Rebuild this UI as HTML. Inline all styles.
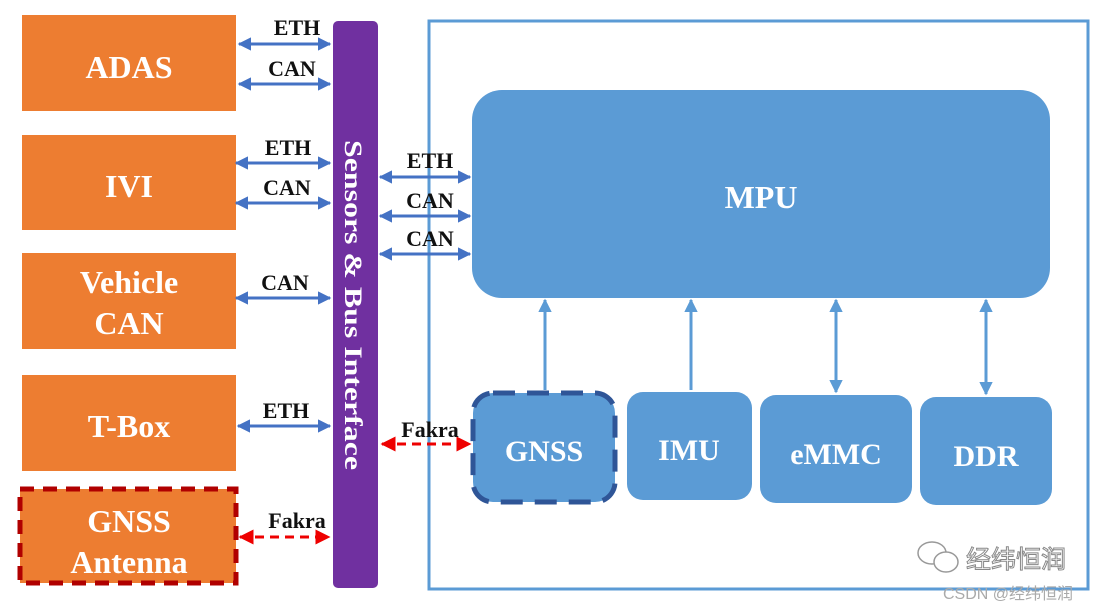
<!DOCTYPE html>
<html><head><meta charset="utf-8"><style>
html,body{margin:0;padding:0;background:#fff;width:1109px;height:610px;overflow:hidden}
svg{display:block}
.w{font-family:"Liberation Serif",serif;font-weight:bold;fill:#fff;text-anchor:middle}
.k{font-family:"Liberation Serif",serif;font-weight:bold;fill:#111;text-anchor:middle;font-size:22px}
</style></head><body>
<svg width="1109" height="610" viewBox="0 0 1109 610" xmlns="http://www.w3.org/2000/svg">
<defs>
<marker id="b" viewBox="0 0 10 10" refX="9" refY="5" markerWidth="4.5" markerHeight="4.5" orient="auto-start-reverse"><path d="M0,0 L10,5 L0,10 z" fill="#4472c4"/></marker>
<marker id="bl" viewBox="0 0 10 10" refX="9" refY="5" markerWidth="4.5" markerHeight="4.5" orient="auto-start-reverse"><path d="M0,0 L10,5 L0,10 z" fill="#5b9bd5"/></marker>
<marker id="r" viewBox="0 0 10 10" refX="9" refY="5" markerWidth="5" markerHeight="5" orient="auto-start-reverse"><path d="M0,0 L10,5 L0,10 z" fill="#e00"/></marker>
</defs>
<rect x="429" y="21" width="659" height="568" fill="none" stroke="#5b9bd5" stroke-width="3"/>
<rect x="22" y="15" width="214" height="96" fill="#ed7d31"/>
<rect x="22" y="135" width="214" height="95" fill="#ed7d31"/>
<rect x="22" y="253" width="214" height="96" fill="#ed7d31"/>
<rect x="22" y="375" width="214" height="96" fill="#ed7d31"/>
<rect x="20" y="489" width="216" height="94" fill="#ed7d31" stroke="#b00000" stroke-width="5" stroke-dasharray="14,9"/>
<text class="w" x="129" y="78" font-size="32">ADAS</text>
<text class="w" x="129" y="197" font-size="32">IVI</text>
<text class="w" x="129" y="293" font-size="32">Vehicle</text>
<text class="w" x="129" y="334" font-size="32">CAN</text>
<text class="w" x="129" y="437" font-size="32">T-Box</text>
<text class="w" x="129" y="532" font-size="32">GNSS</text>
<text class="w" x="129" y="573" font-size="32">Antenna</text>
<rect x="333" y="21" width="45" height="567" rx="5" fill="#7030a0"/>
<text class="w" transform="translate(345,305) rotate(90)" font-size="25" textLength="330" lengthAdjust="spacingAndGlyphs">Sensors &amp; Bus Interface</text>
<g stroke="#4472c4" stroke-width="3" fill="none">
<line x1="239" y1="44" x2="330" y2="44" marker-start="url(#b)" marker-end="url(#b)"/>
<line x1="239" y1="84" x2="330" y2="84" marker-start="url(#b)" marker-end="url(#b)"/>
<line x1="236" y1="163" x2="330" y2="163" marker-start="url(#b)" marker-end="url(#b)"/>
<line x1="236" y1="203" x2="330" y2="203" marker-start="url(#b)" marker-end="url(#b)"/>
<line x1="236" y1="298" x2="330" y2="298" marker-start="url(#b)" marker-end="url(#b)"/>
<line x1="238" y1="426" x2="330" y2="426" marker-start="url(#b)" marker-end="url(#b)"/>
<line x1="380" y1="177" x2="470" y2="177" marker-start="url(#b)" marker-end="url(#b)"/>
<line x1="380" y1="216" x2="470" y2="216" marker-start="url(#b)" marker-end="url(#b)"/>
<line x1="380" y1="254" x2="470" y2="254" marker-start="url(#b)" marker-end="url(#b)"/>
</g>
<g stroke="#e00" stroke-width="3" fill="none" stroke-dasharray="9,6">
<line x1="240" y1="537" x2="329" y2="537" marker-start="url(#r)" marker-end="url(#r)"/>
<line x1="382" y1="444" x2="470" y2="444" marker-start="url(#r)" marker-end="url(#r)"/>
</g>
<text class="k" x="297" y="35">ETH</text>
<text class="k" x="292" y="76">CAN</text>
<text class="k" x="288" y="155">ETH</text>
<text class="k" x="287" y="195">CAN</text>
<text class="k" x="285" y="290">CAN</text>
<text class="k" x="286" y="418">ETH</text>
<text class="k" x="297" y="528" font-size="19">Fakra</text>
<text class="k" x="430" y="168">ETH</text>
<text class="k" x="430" y="208">CAN</text>
<text class="k" x="430" y="246">CAN</text>
<text class="k" x="430" y="437" font-size="19">Fakra</text>
<rect x="472" y="90" width="578" height="208" rx="30" fill="#5b9bd5"/>
<text class="w" x="761" y="208" font-size="32">MPU</text>
<rect x="473" y="393" width="142" height="109" rx="20" fill="#5b9bd5" stroke="#2f5597" stroke-width="5" stroke-dasharray="22,12"/>
<rect x="627" y="392" width="125" height="108" rx="16" fill="#5b9bd5"/>
<rect x="760" y="395" width="152" height="108" rx="16" fill="#5b9bd5"/>
<rect x="920" y="397" width="132" height="108" rx="16" fill="#5b9bd5"/>
<text class="w" x="544" y="461" font-size="30">GNSS</text>
<text class="w" x="689" y="460" font-size="30">IMU</text>
<text class="w" x="836" y="464" font-size="30">eMMC</text>
<text class="w" x="986" y="466" font-size="30">DDR</text>
<g stroke="#5b9bd5" stroke-width="3" fill="none">
<line x1="545" y1="390" x2="545" y2="300" marker-end="url(#bl)"/>
<line x1="691" y1="390" x2="691" y2="300" marker-end="url(#bl)"/>
<line x1="836" y1="392" x2="836" y2="300" marker-start="url(#bl)" marker-end="url(#bl)"/>
<line x1="986" y1="394" x2="986" y2="300" marker-start="url(#bl)" marker-end="url(#bl)"/>
</g>
<g fill="none" stroke="#999" stroke-width="1.5">
<ellipse cx="932" cy="553" rx="14" ry="11"/>
<ellipse cx="946" cy="562" rx="12" ry="10" fill="#fff"/>
</g>
<text x="966" y="568" font-family="'Noto Sans CJK SC',sans-serif" font-size="25" fill="#fff" stroke="#888" stroke-width="1">经纬恒润</text>
<text x="943" y="599" font-family="'Liberation Sans','Noto Sans CJK SC',sans-serif" font-size="16" fill="#aaa">CSDN @经纬恒润</text>
</svg>
</body></html>
